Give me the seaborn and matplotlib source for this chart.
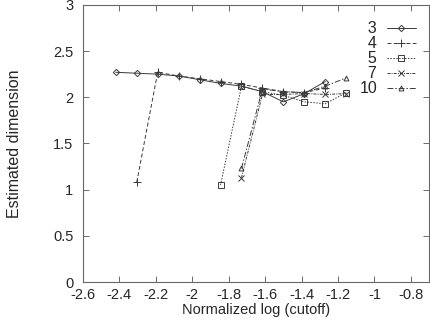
import matplotlib
matplotlib.use("Agg")
import matplotlib.pyplot as plt
import seaborn as sns
import pandas as pd

# log(cutoff) grid, normalized
x_grid = [-2.42, -2.305, -2.19, -2.075, -1.96, -1.845, -1.73, -1.615, -1.50, -1.385, -1.27, -1.155]

series_names = ["3", "4", "5", "7", "10"]
x_vals = {
    "3": x_grid[0:11],
    "4": x_grid[1:11],
    "5": x_grid[5:12],
    "7": x_grid[6:12],
    "10": x_grid[6:12],
}
dim_vals = {
    "3": [2.27, 2.26, 2.25, 2.23, 2.19, 2.15, 2.12, 2.06, 1.95, 2.04, 2.17],
    "4": [1.08, 2.27, 2.23, 2.20, 2.17, 2.14, 2.10, 2.06, 2.05, 2.10],
    "5": [1.05, 2.12, 2.06, 2.02, 1.95, 1.93, 2.05],
    "7": [1.13, 2.03, 2.03, 2.04, 2.03, 2.04],
    "10": [1.23, 2.09, 2.06, 2.05, 2.12, 2.21],
}

styles = {
    "3": dict(marker="D", ms=3.2, linestyle="-"),
    "4": dict(marker="+", ms=6, linestyle=(0, (4, 2.5))),
    "5": dict(marker="s", ms=4, linestyle=(0, (1.5, 1.5))),
    "7": dict(marker="x", ms=4, linestyle=(0, (3, 1.2, 1, 1.2))),
    "10": dict(marker="^", ms=3.5, linestyle=(0, (6, 2, 1.5, 2))),
}

sns.set_style("ticks")
plt.rcParams["font.family"] = ["Liberation Sans", "DejaVu Sans"]

fig = plt.figure(figsize=(4.3, 3.22), dpi=100)
ax = fig.add_axes([0.193, 0.124, 0.805, 0.861])

line_col = "#3a3a3a"
for name in series_names:
    df = pd.DataFrame({"x": x_vals[name], "y": dim_vals[name]})
    st = styles[name]
    sns.lineplot(data=df, x="x", y="y", ax=ax, color=line_col, lw=0.7,
                 marker=st["marker"], markersize=st["ms"], linestyle=st["linestyle"],
                 markerfacecolor="none", markeredgecolor=line_col, markeredgewidth=0.7,
                 label=name, sort=False, estimator=None)

ax.set_xlim(-2.6, -0.7)
ax.set_ylim(0, 3)
ax.set_xticks([-2.6, -2.4, -2.2, -2.0, -1.8, -1.6, -1.4, -1.2, -1.0, -0.8])
ax.set_xticklabels(["-2.6", "-2.4", "-2.2", "-2", "-1.8", "-1.6", "-1.4", "-1.2", "-1", "-0.8"])
ax.set_yticks([0, 0.5, 1, 1.5, 2, 2.5, 3])
ax.set_yticklabels(["0", "0.5", "1", "1.5", "2", "2.5", "3"])
ax.tick_params(direction="in", length=4, width=0.6, color="#555555",
               top=True, right=True, labelsize=10.5)
ax.tick_params(axis="x", pad=4)
ax.tick_params(axis="y", pad=7)
for sp in ax.spines.values():
    sp.set_linewidth(0.8)
    sp.set_color("#666666")

ax.set_xlabel("Normalized log (cutoff)", fontsize=10.5, labelpad=1)
ax.set_ylabel("Estimated dimension", fontsize=11.5, labelpad=22)

# right-aligned labels: pad one-digit names with a figure space
handles, labels = ax.get_legend_handles_labels()
padded = [lab.rjust(2, "\u2007") for lab in labels]
ax.legend(handles, padded, loc="upper right", bbox_to_anchor=(0.97, 0.952),
          frameon=False, markerfirst=False, fontsize=11.5, handlelength=1.8,
          labelspacing=0.0, handletextpad=0.6, borderaxespad=0.0, borderpad=0.2)

fig.savefig("out.png", dpi=100)
